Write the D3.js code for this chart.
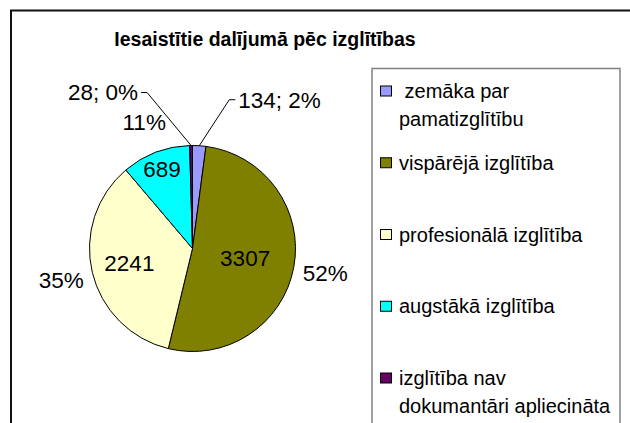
<!DOCTYPE html>
<html>
<head>
<meta charset="utf-8">
<script src="https://cdn.jsdelivr.net/npm/d3@7"></script>
<style>
  body { margin: 0; background: #fff; }
  svg { display: block; font-family: "Liberation Sans", Arial, sans-serif; }
  .title { font-weight: bold; font-size: 19.5px; }
  .lbl { font-size: 22.5px; }
  .leg { font-size: 20px; }
</style>
</head>
<body>
<div id="chart"></div>
<script>
// data
const categories = [
  ' zemāka par pamatizglītību',
  'vispārējā izglītība',
  'profesionālā izglītība',
  'augstākā izglītība',
  'izglītība nav dokumantāri apliecināta'
];
// legend text split into lines as in the original
const legendLines = [
  [' zemāka par', 'pamatizglītību'],
  ['vispārējā izglītība'],
  ['profesionālā izglītība'],
  ['augstākā izglītība'],
  ['izglītība nav', 'dokumantāri apliecināta']
];
const values = [134, 3307, 2241, 689, 28];
const colors = ['#9999ff', '#808000', '#ffffcc', '#00ffff', '#660066'];
const title = 'Iesaistītie dalījumā pēc izglītības';

// layout
const W = 630, H = 423;
const CX = 192.5, CY = 248.5, R = 103;
const OUTER_R = 135;
// leader elbow offsets for the small slices (from arc edge)
const leaderOffsets = [[30, -46], null, null, null, [-44, -53]];

const total = d3.sum(values);
const pct = v => Math.round(v / total * 100) + '%';

const svg = d3.select('#chart').append('svg')
  .attr('width', W).attr('height', H);

// outer frame
svg.append('rect')
  .attr('x', 11).attr('y', 10.5)
  .attr('width', 800).attr('height', 600)
  .attr('fill', 'none').attr('stroke', '#111').attr('stroke-width', 2);

svg.append('text').attr('class', 'title')
  .attr('x', 265).attr('y', 46)
  .attr('text-anchor', 'middle')
  .text(title);

// pie
const pie = d3.pie().sort(null).value(d => d);
const arcs = pie(values);
const arc = d3.arc().innerRadius(0).outerRadius(R);

const $vis = svg.append('g').attr('transform', `translate(${CX},${CY})`);

$vis.selectAll('path.slice')
  .data(arcs)
  .join('path')
  .attr('class', 'slice')
  .attr('d', arc)
  .attr('fill', (d, i) => colors[i])
  .attr('stroke', '#000')
  .attr('stroke-width', 1);

const mid = d => (d.startAngle + d.endAngle) / 2;
const polar = (a, r) => [r * Math.sin(a), -r * Math.cos(a)];
// inside label distance, pushed outward for narrow slices
const innerR = d => {
  const s = d.value / total;
  return (s < 0.15 ? 0.83 : s > 0.4 ? 0.52 : 0.63) * R;
};

// big slices: value inside, percent outside
const big = arcs.filter(d => d.value / total >= 0.05);
const small = arcs.filter(d => d.value / total < 0.05);

$vis.selectAll('text.inner')
  .data(big)
  .join('text')
  .attr('class', 'lbl inner')
  .attr('text-anchor', 'middle')
  .attr('dy', '0.35em')
  .attr('x', d => polar(mid(d), innerR(d))[0])
  .attr('y', d => polar(mid(d), innerR(d))[1])
  .text(d => d.value);

$vis.selectAll('text.outer')
  .data(big)
  .join('text')
  .attr('class', 'lbl outer')
  .attr('text-anchor', 'middle')
  .attr('dy', '0.35em')
  .attr('x', d => polar(mid(d), OUTER_R)[0])
  .attr('y', d => polar(mid(d), OUTER_R)[1])
  .text(d => pct(d.value));

// small slices: "value; pct" with leader line
small.forEach(d => {
  const off = leaderOffsets[d.index];
  const p0 = polar(mid(d), R);
  const elbow = [p0[0] + off[0], p0[1] + off[1]];
  const dir = off[0] > 0 ? 1 : -1;
  const end = [elbow[0] + dir * 6, elbow[1]];
  $vis.append('polyline')
    .attr('points', [p0, elbow, end].map(p => p.join(',')).join(' '))
    .attr('fill', 'none').attr('stroke', '#000').attr('stroke-width', 1);
  $vis.append('text')
    .attr('class', 'lbl')
    .attr('x', end[0] + dir * 3)
    .attr('y', end[1])
    .attr('dy', '0.35em')
    .attr('text-anchor', dir > 0 ? 'start' : 'end')
    .text(`${d.value}; ${pct(d.value)}`);
});

// legend
const $leg = svg.append('g');
$leg.append('rect')
  .attr('x', 372).attr('y', 68.5)
  .attr('width', 248).attr('height', 500)
  .attr('fill', 'none').attr('stroke', '#808080').attr('stroke-width', 1.5);

const ly = d3.scalePoint().domain(d3.range(categories.length)).range([91, 378]);

const items = $leg.selectAll('g.item')
  .data(categories)
  .join('g')
  .attr('class', 'item')
  .attr('transform', (d, i) => `translate(0,${ly(i)})`);

items.append('rect')
  .attr('x', 380.5).attr('y', -5)
  .attr('width', 11).attr('height', 10)
  .attr('fill', (d, i) => colors[i])
  .attr('stroke', '#000').attr('stroke-width', 1);

items.append('text')
  .attr('class', 'leg')
  .attr('xml:space', 'preserve')
  .style('white-space', 'pre')
  .selectAll('tspan')
  .data((d, i) => legendLines[i])
  .join('tspan')
  .attr('x', 399)
  .attr('y', (d, j) => j * 28)
  .attr('dy', '0.35em')
  .text(d => d);
</script>
</body>
</html>
